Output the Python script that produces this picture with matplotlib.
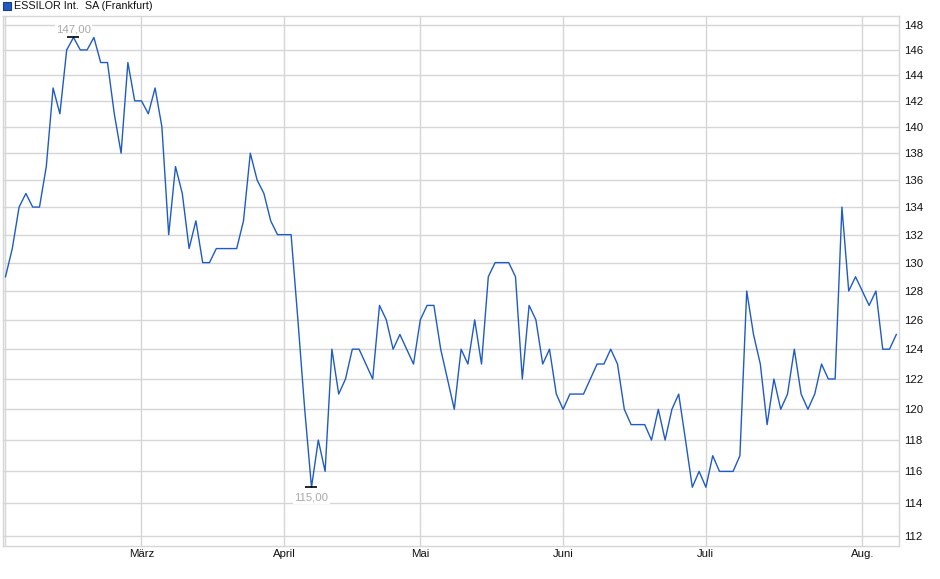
import numpy as np
import matplotlib
matplotlib.use("Agg")
import matplotlib.pyplot as plt
from matplotlib.patches import Rectangle
from matplotlib.ticker import FixedLocator, NullLocator

# daily closing prices (Frankfurt), one value per trading day
prices = [
    129, 131, 134, 135, 134, 134, 137, 143, 141, 146,
    147, 146, 146, 147, 145, 145, 141, 138, 145, 142,
    142, 141, 143, 140, 132, 137, 135, 131, 133, 130,
    130, 131, 131, 131, 131, 133, 138, 136, 135, 133,
    132, 132, 132, 126, 120, 115, 118, 116, 124, 121,
    122, 124, 124, 123, 122, 127, 126, 124, 125, 124,
    123, 126, 127, 127, 124, 122, 120, 124, 123, 126,
    123, 129, 130, 130, 130, 129, 122, 127, 126, 123,
    124, 121, 120, 121, 121, 121, 122, 123, 123, 124,
    123, 120, 119, 119, 119, 118, 120, 118, 120, 121,
    118, 115, 116, 115, 117, 116, 116, 116, 117, 128,
    125, 123, 119, 122, 120, 121, 124, 121, 120, 121,
    123, 122, 122, 134, 128, 129, 128, 127, 128, 124,
    124, 125,
]
month_labels = ["", "März", "April", "Mai", "Juni", "Juli", "Aug."]
month_start_idx = [0, 20, 41, 61, 82, 103, 126]
y_ticks = list(range(112, 149, 2))
title = "ESSILOR Int.  SA (Frankfurt)"

LINE = "#1f5bc6"
GRID = "#d6d6d6"
TEXT = "#111111"
plt.rcParams["font.family"] = ["Liberation Sans", "DejaVu Sans"]

W, H = 940, 579
fig = plt.figure(figsize=(W / 100, H / 100), dpi=100, facecolor="white")
ax = fig.add_axes([2.7 / W, 1 - 545.7 / H, (898.7 - 2.7) / W, (545.7 - 16) / H])

x = np.arange(len(prices))
ax.plot(x, prices, color=LINE, lw=1.0, zorder=3)

ax.set_yscale("log")
ax.set_ylim(111.39, 148.73)
ax.set_xlim(-0.41, 131.35)

ax.yaxis.set_major_locator(FixedLocator(y_ticks))
ax.yaxis.set_minor_locator(NullLocator())
ax.set_yticklabels([str(v) for v in y_ticks])
ax.yaxis.tick_right()
ax.xaxis.set_major_locator(FixedLocator(month_start_idx))
ax.xaxis.set_minor_locator(NullLocator())
ax.set_xticklabels(month_labels)
ax.tick_params(axis="both", length=0, labelsize=8.2, colors=TEXT)
ax.tick_params(axis="y", pad=4)
ax.tick_params(axis="x", pad=2.5)
ax.grid(True, color=GRID, lw=1.0, zorder=0)
for sp in ax.spines.values():
    sp.set_color(GRID)
    sp.set_linewidth(1.0)

# high / low markers with their values
i_max = int(np.argmax(prices))
i_min = int(np.argmin(prices))
for idx, dy in ((i_max, 6), (i_min, -7.5)):
    ax.plot([idx], [prices[idx]], marker="_", ms=9, mew=1.2, color="black", zorder=4)
    ax.annotate(f"{prices[idx]:.2f}".replace(".", ","), (idx, prices[idx]),
                xytext=(0, dy), textcoords="offset points", ha="center", va="center",
                fontsize=8.2, color="#a9a9a9", zorder=5,
                bbox=dict(boxstyle="square,pad=0.1", fc="white", ec="none"))

# legend square + title
fig.patches.append(Rectangle((2.5 / W, 1 - 9.5 / H), 8 / W, 8 / H, transform=fig.transFigure,
                             fc=LINE, ec="#173f80", lw=0.8))
fig.text(14.5 / W, 1 - 6 / H, title, ha="left", va="center", fontsize=7.75, color=TEXT)

fig.savefig("out.png", dpi=100, facecolor="white")
